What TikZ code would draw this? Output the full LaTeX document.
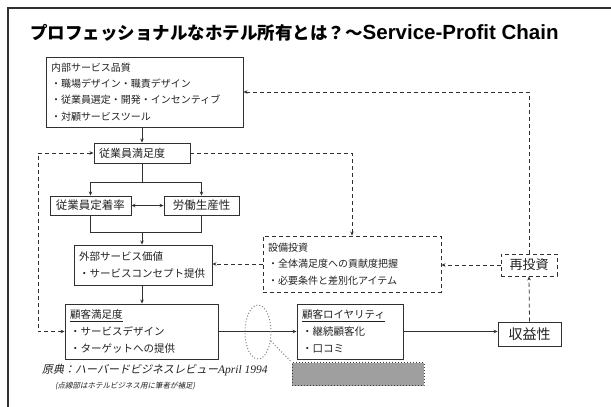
\documentclass[tikz,border=0pt]{standalone}
\usepackage{fontspec}
\setmainfont{Noto Sans CJK JP}
\newfontfamily\lat{Liberation Sans}
\newfontfamily\jpit{Noto Sans CJK JP}[FakeSlant=0.2]
\newfontfamily\serit{Liberation Serif}
\usetikzlibrary{arrows.meta,shapes.geometric}
\definecolor{ink}{HTML}{222222}
\definecolor{ln}{HTML}{303030}
\begin{document}
\begin{tikzpicture}[x=1pt,y=-1pt,
  box/.style={draw=ln, line width=0.9pt, fill=white, inner xsep=5pt, inner ysep=0pt, align=left, text=ink},
  dbox/.style={box, dash pattern=on 4pt off 3pt},
  conn/.style={draw=ln, line width=0.8pt},
  dconn/.style={conn, dash pattern=on 4pt off 3pt},
  tip/.style={-{Stealth[length=4pt,width=3.5pt]}},
  tips/.style={{Stealth[length=4pt,width=3.5pt]}-{Stealth[length=4pt,width=3.5pt]}},
  f10/.style={font=\fontsize{10}{16.3}\selectfont},
  f11/.style={font=\fontsize{11}{16.5}\selectfont}
]
\useasboundingbox (0,0) rectangle (611,407);
\fill[white] (0,0) rectangle (611,407);
% frame
\draw[line width=1.3pt, ln] (8,407) -- (8,8) -- (611,8);
% title
\node[anchor=west, inner sep=0pt, text=black] (title) at (30,33)
  {\fontsize{17.5}{17.5}\selectfont\bfseries プロフェッショナルなホテル所有とは？～{\lat\fontsize{20.5}{20.5}\selectfont Service-Profit Chain}};

% boxes
\node[box, f10, minimum width=197pt, minimum height=70pt, text width=187pt] (b1) at (144.5,92)
  {内部サービス品質\\・職場デザイン・職責デザイン\\・従業員選定・開発・インセンティブ\\・対顧サービスツール};
\node[box, f11, minimum width=96pt, minimum height=20pt, text width=86pt] (es) at (142,153)
  {従業員満足度};
\node[box, font=\fontsize{11.5}{14}\selectfont, minimum width=81pt, minimum height=19pt, align=center] (ret) at (90.5,205.5)
  {従業員定着率};
\node[box, font=\fontsize{11.5}{14}\selectfont, minimum width=75pt, minimum height=19pt, align=center] (prod) at (201.5,205.5)
  {労働生産性};
\node[box, font=\fontsize{10.5}{16.5}\selectfont, minimum width=138pt, minimum height=40pt, text width=128pt] (ext) at (143,265)
  {外部サービス価値\\・サービスコンセプト提供};
\node[dbox, f10, minimum width=178pt, minimum height=56pt, text width=168pt] (fac) at (352,264)
  {設備投資\\・全体満足度への貢献度把握\\・必要条件と差別化アイテム};
\node[dbox, font=\fontsize{13}{13}\selectfont, minimum width=56pt, minimum height=22pt, align=center, inner xsep=0pt] (rein) at (529,265)
  {再投資};
\node[box, font=\fontsize{10.5}{17}\selectfont, minimum width=153pt, minimum height=55pt, text width=143pt] (cs) at (141.5,331.5)
  {\underline{顧客満足度}\\・サービスデザイン\\・ターゲットへの提供};
\node[box, font=\fontsize{10.5}{17}\selectfont, minimum width=106pt, minimum height=55pt, text width=96pt] (cl) at (350,331.5)
  {\underline{顧客ロイヤリティ}\\・継続顧客化\\・口コミ};
\node[box, font=\fontsize{14}{14}\selectfont, minimum width=63pt, minimum height=24pt, align=center, inner xsep=0pt] (prof) at (529.5,334)
  {収益性};

% solid connectors
\draw[conn, tip] (es.north |- b1.south) -- (es.north);
\coordinate (sp1) at (142,182);
\coordinate (mg) at (142,232);
\draw[conn] (es.south) -- (sp1);
\draw[conn, tip] (sp1) -| (ret.north);
\draw[conn, tip] (sp1) -| (prod.north);
\draw[conn, tips] (ret.east) -- (prod.west);
\draw[conn] (ret.south) |- (mg);
\draw[conn] (prod.south) |- (mg);
\draw[conn, tip] (mg) -- (mg |- ext.north);
\draw[conn, tip] (mg |- ext.south) -- (mg |- cs.north);
\draw[conn, tip] (cs.east) -- (cl.west);
\draw[conn, tip] (cl.east) -- (cl.east -| prof.west);

% dashed connectors
\coordinate (lft) at (38,153);
\draw[dconn, tips] (es.west) -- (lft) |- (cs.west);
\draw[dconn, tip] (es.east) -| (fac.north);
\draw[dconn, tip] (fac.west) -- (fac.west -| ext.east);
\draw[dconn, tip] (rein.west) -- (rein.west -| fac.east);
\draw[dconn, tip] (prof.north) -- (rein.south);
\draw[dconn, tip] (rein.north) |- (b1.east);

% highlight ellipse and grey box
\node[draw=gray, dotted, line width=1pt, ellipse, minimum width=26pt, minimum height=54pt] (ell) at (258,332) {};
\node[fill=gray!75, draw=gray!50!black, dotted, line width=1pt, minimum width=132pt, minimum height=23pt] (gb) at (358,374) {};
\draw[gray, dotted, line width=1pt] (ell.-35) -- (gb.north west);

% footer
\node[anchor=west, inner sep=0pt, text=ink] (src) at (42,370)
  {{\jpit\fontsize{11}{11}\selectfont 原典：ハーバードビジネスレビュー}{\serit\itshape\fontsize{11.5}{11.5}\selectfont April 1994}};
\node[anchor=west, inner sep=0pt, text=ink] (note) at (55,386)
  {\jpit\fontsize{7.5}{7.5}\selectfont (点線部はホテルビジネス用に筆者が補足)};
\end{tikzpicture}
\end{document}
